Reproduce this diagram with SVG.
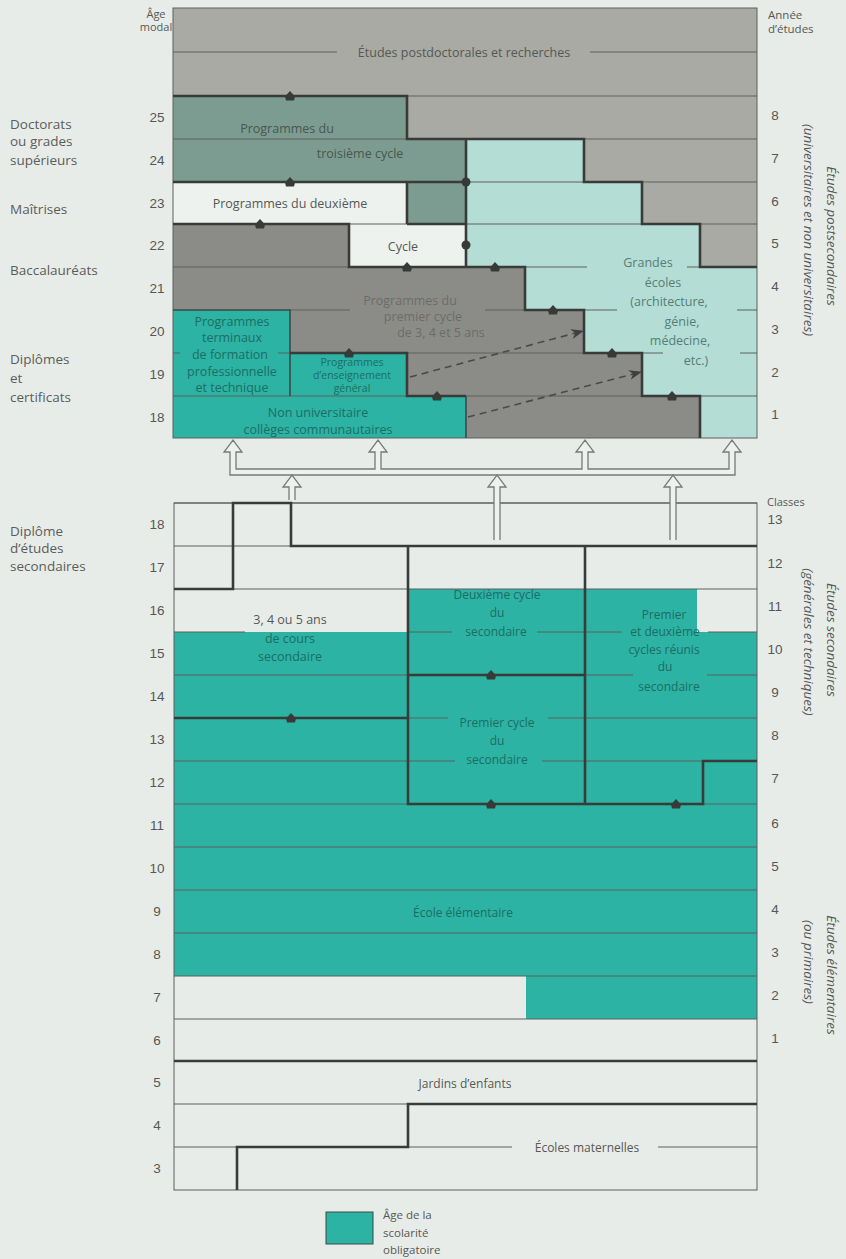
<svg xmlns="http://www.w3.org/2000/svg" width="846" height="1259" viewBox="0 0 846 1259">
<defs>
<style>
.t{font-family:"Open Sans","Liberation Sans",sans-serif;font-size:12.5px;fill:#555855;text-anchor:middle}
.s{font-size:12px}
.xs{font-size:10.5px}
.l{font-family:"Open Sans","Liberation Sans",sans-serif;font-size:13.5px;fill:#5a5d5a}
.n{font-family:"Liberation Sans",sans-serif;font-size:13.5px;fill:#555855;text-anchor:middle}
.r{font-family:"Open Sans","Liberation Sans",sans-serif;font-size:13.5px;font-style:italic;fill:#555855;text-anchor:middle}
.tl{fill:#1c6d63}
.gr{fill:#6b6c69}
.cy{fill:#557d75}
.tc{fill:#46574f}
.thin{stroke:#5d615e;stroke-width:1;fill:none}
.thick{stroke:#393b39;stroke-width:2.6;fill:none}
.med{stroke:#3d4a46;stroke-width:1.6;fill:none}
.pipe{fill:#eef2ee;stroke:#777a77;stroke-width:1.3}
.dash{stroke:#4a4a4a;stroke-width:1.6;stroke-dasharray:7 5;fill:none}
</style>
<path id="mk" d="M-5,0.5 L0,-5 L5,0.5 L4,4.5 L-4,4.5Z" fill="#383a38"/>
<marker id="ah" markerUnits="userSpaceOnUse" markerWidth="14" markerHeight="12" refX="12" refY="5" orient="auto">
<path d="M0,0 L13,5 L0,10 L4,5Z" fill="#3f3f3f"/>
</marker>
</defs>
<rect x="0" y="0" width="846" height="1259" fill="#e8ece8"/>

<!-- top section -->
<g id="postdoc">
<rect x="173" y="8" width="584" height="430" fill="#a8aaa3"/>
<text class="t" x="464" y="57">Études postdoctorales et recherches</text>
</g>
<g id="troisieme-cycle">
<path d="M173,96H407V139H466V224H407V182H173Z" fill="#7d9c91"/>
<text class="t tc" x="287" y="133">Programmes du</text>
<text class="t tc" x="360" y="158">troisième cycle</text>
</g>
<g id="deuxieme">
<rect x="173" y="182" width="234" height="42" fill="#eef2ee"/>
<text class="t" x="290" y="208">Programmes du deuxième</text>
</g>
<g id="cycle">
<rect x="349" y="224" width="117" height="43" fill="#eef2ee"/>
<text class="t" x="403" y="251">Cycle</text>
</g>
<g id="grandes-ecoles">
<path d="M466,139H584V182H642V224H700V267H757V438H700V396H642V353H584V310H525V267H466Z" fill="#b4ddd5"/>
<text class="t cy" x="648" y="267">Grandes</text>
<text class="t cy" x="663" y="287">écoles</text>
<text class="t cy" x="669" y="306">(architecture,</text>
<text class="t cy" x="682" y="326">génie,</text>
<text class="t cy" x="680" y="345">médecine,</text>
<text class="t cy" x="696" y="365">etc.)</text>
</g>
<g id="premier-cycle">
<path d="M173,224H349V267H525V310H584V353H642V396H700V438H466V396H407V353H290V310H173Z" fill="#8b8c88"/>
<text class="t gr" x="410" y="305">Programmes du</text>
<text class="t gr" x="423" y="321">premier cycle</text>
<text class="t gr" x="441" y="337">de 3, 4 et 5 ans</text>
</g>
<g id="terminaux">
<rect x="173" y="310" width="117" height="86" fill="#2db3a3"/>
<text class="t tl" x="232" y="326">Programmes</text>
<text class="t tl" x="232" y="342">terminaux</text>
<text class="t tl" x="230" y="359">de formation</text>
<text class="t tl" x="232" y="376">professionnelle</text>
<text class="t tl" x="232" y="392">et technique</text>
</g>
<g id="enseignement-general">
<rect x="290" y="353" width="117" height="43" fill="#2db3a3"/>
<text class="t tl xs" x="352" y="366">Programmes</text>
<text class="t tl xs" x="352" y="379">d’enseignement</text>
<text class="t tl xs" x="352" y="392">général</text>
</g>
<g id="non-universitaire">
<rect x="173" y="396" width="293" height="42" fill="#2db3a3"/>
<text class="t tl" x="318" y="417">Non universitaire</text>
<text class="t tl" x="318" y="434">collèges communautaires</text>
</g>
<g id="top-lines">
<path class="thin" d="M173,52H337M590,52H757M407,96H757M173,139H407M584,139H757M466,182H584M642,182H757M349,224H407M466,224H642M700,224H757M173,267H349M525,267H587M687,267H700M290,310H350M485,310H525M584,310H617M737,310H757M173,353H180M278,353H290M407,353H584M642,353H663M740,353H757M173,396H407M466,396H642M700,396H757"/>
<rect class="thin" x="173" y="8" width="584" height="430" stroke-width="1.2"/>
<path class="med" d="M173,310H290V396M466,396V438"/>
<path class="thick" d="M173,96H407V139H584V182H642V224H700V267H757M173,182H466M407,182V224M173,224H349V267H525V310H584V353H642V396H700V438M407,224H466M466,139V267M290,353H407V396H466"/>
<use href="#mk" x="290" y="96"/>
<use href="#mk" x="290" y="182"/>
<use href="#mk" x="260" y="224"/>
<use href="#mk" x="407" y="267"/>
<use href="#mk" x="495" y="267"/>
<use href="#mk" x="553" y="310"/>
<use href="#mk" x="612" y="353"/>
<use href="#mk" x="672" y="396"/>
<use href="#mk" x="349" y="353"/>
<use href="#mk" x="437" y="396"/>
<circle cx="466" cy="182" r="4.5" fill="#383a38"/>
<circle cx="466" cy="245" r="4.5" fill="#383a38"/>
</g>

<!-- lower section -->
<g id="secondaire">
<rect x="408" y="589" width="289" height="43" fill="#2db3a3"/>
<rect x="174" y="632" width="583" height="344" fill="#2db3a3"/>
<rect x="526" y="976" width="231" height="43" fill="#2db3a3"/>
<text class="t" x="290" y="624">3, 4 ou 5 ans</text>
<text class="t tl" x="290" y="643">de cours</text>
<text class="t tl" x="290" y="661">secondaire</text>
<text class="t tl s" x="497" y="599">Deuxième cycle</text>
<text class="t tl s" x="497" y="617">du</text>
<text class="t tl s" x="496" y="636">secondaire</text>
<text class="t tl s" x="497" y="727">Premier cycle</text>
<text class="t tl s" x="497" y="745">du</text>
<text class="t tl s" x="497" y="764">secondaire</text>
<text class="t tl s" x="664" y="619">Premier</text>
<text class="t tl s" x="665" y="636">et deuxième</text>
<text class="t tl s" x="664" y="654">cycles réunis</text>
<text class="t tl s" x="665" y="671">du</text>
<text class="t tl s" x="669" y="691">secondaire</text>
</g>
<g id="elementaire">
<text class="t tl s" x="463" y="917">École élémentaire</text>
</g>
<g id="jardins">
<text class="t s" x="465" y="1088">Jardins d’enfants</text>
</g>
<g id="maternelles">
<text class="t s" x="587" y="1152">Écoles maternelles</text>
</g>
<g id="lower-lines">
<path class="thin" d="M174,503H233M291,503H757M174,546H291M233,589H757M174,632H245M408,632H452M537,632H622M708,632H757M174,675H408M585,675H633M707,675H757M408,718H448M548,718H757M174,761H455M542,761H703M174,804H408M703,804H757M174,847H757M174,890H757M174,933H757M174,976H757M174,1019H757M174,1104H408M174,1147H237M408,1147H512M658,1147H757"/>
<rect class="thin" x="174" y="503" width="583" height="687" stroke-width="1.2"/>
<path class="thick" d="M174,589H233V503H291V546H757M408,546V804H703V761H757M585,546V804M408,675H585M174,718H408M174,1061H757M237,1190V1147H408V1104H757"/>
<use href="#mk" x="291" y="718"/>
<use href="#mk" x="491" y="675"/>
<use href="#mk" x="491" y="804"/>
<use href="#mk" x="676" y="804"/>
</g>

<g id="connectors">
<path class="pipe" d="M230,475V452H224L233,440L242,452H236V469H375V452H369L378,440L387,452H381V469H582V452H576L585,440L594,452H588V469H729V452H723L732,440L741,452H735V475Z"/>
<path class="pipe" d="M289,500V487H283L292,475L301,487H295V500"/>
<path class="pipe" d="M494,540V487H488L497,475L506,487H500V540"/>
<path class="pipe" d="M670,540V487H664L673,475L682,487H676V540"/>
<path class="dash" d="M410,377L583,331" marker-end="url(#ah)"/>
<path class="dash" d="M468,417L641,372" marker-end="url(#ah)"/>
</g>

<g id="axis-labels">
<text class="t" x="156" y="18" style="font-size:11px">Âge</text>
<text class="t" x="156" y="31" style="font-size:11px">modal</text>
<text class="t" x="768" y="19" style="font-size:11.5px;text-anchor:start">Année</text>
<text class="t" x="768" y="33" style="font-size:11.5px;text-anchor:start">d’études</text>
<text class="t" x="767" y="506" style="font-size:11px;text-anchor:start">Classes</text>
<g class="n">
<text x="157" y="122">25</text><text x="157" y="165">24</text><text x="157" y="208">23</text><text x="157" y="250">22</text>
<text x="157" y="293">21</text><text x="157" y="336">20</text><text x="157" y="379">19</text><text x="157" y="422">18</text>
<text x="775" y="120">8</text><text x="775" y="163">7</text><text x="775" y="206">6</text><text x="775" y="248">5</text>
<text x="775" y="291">4</text><text x="775" y="334">3</text><text x="775" y="377">2</text><text x="775" y="419">1</text>
<text x="157" y="529">18</text><text x="157" y="572">17</text><text x="157" y="615">16</text><text x="157" y="658">15</text>
<text x="157" y="701">14</text><text x="157" y="744">13</text><text x="157" y="787">12</text><text x="157" y="830">11</text>
<text x="157" y="873">10</text><text x="157" y="916">9</text><text x="157" y="959">8</text><text x="157" y="1002">7</text>
<text x="157" y="1045">6</text><text x="157" y="1087">5</text><text x="157" y="1130">4</text><text x="157" y="1173">3</text>
<text x="775" y="524">13</text><text x="775" y="568">12</text><text x="775" y="611">11</text><text x="775" y="654">10</text>
<text x="775" y="697">9</text><text x="775" y="740">8</text><text x="775" y="783">7</text><text x="775" y="828">6</text>
<text x="775" y="871">5</text><text x="775" y="914">4</text><text x="775" y="957">3</text><text x="775" y="1000">2</text>
<text x="775" y="1043">1</text>
</g>
<text class="l" x="10" y="129">Doctorats</text>
<text class="l" x="10" y="146">ou grades</text>
<text class="l" x="10" y="165">supérieurs</text>
<text class="l" x="10" y="214">Maîtrises</text>
<text class="l" x="10" y="275">Baccalauréats</text>
<text class="l" x="10" y="364">Diplômes</text>
<text class="l" x="10" y="383">et</text>
<text class="l" x="10" y="402">certificats</text>
<text class="l" x="10" y="536">Diplôme</text>
<text class="l" x="10" y="553">d’études</text>
<text class="l" x="10" y="571">secondaires</text>
<text class="r" transform="translate(827,236) rotate(90)">Études postsecondaires</text>
<text class="r" transform="translate(804,230) rotate(90)">(universitaires et non universitaires)</text>
<text class="r" transform="translate(827,640) rotate(90)">Études secondaires</text>
<text class="r" transform="translate(804,642) rotate(90)">(générales et techniques)</text>
<text class="r" transform="translate(827,975) rotate(90)">Études élémentaires</text>
<text class="r" transform="translate(804,962) rotate(90)">(ou primaires)</text>
</g>

<g id="legend">
<rect x="326" y="1212" width="47" height="32" fill="#2db3a3" stroke="#3d4a46" stroke-width="1"/>
<text class="t" x="383" y="1219" style="font-size:11.5px;text-anchor:start">Âge de la</text>
<text class="t" x="383" y="1237" style="font-size:11.5px;text-anchor:start">scolarité</text>
<text class="t" x="383" y="1254" style="font-size:11.5px;text-anchor:start">obligatoire</text>
</g>
</svg>
